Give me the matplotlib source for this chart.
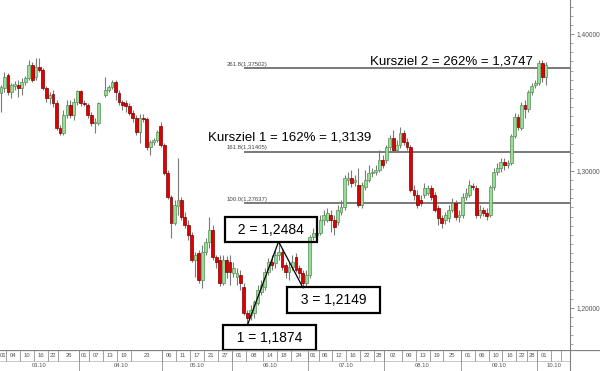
import numpy as np
import matplotlib
matplotlib.use('Agg')
import matplotlib.pyplot as plt
from matplotlib.ticker import MultipleLocator, AutoMinorLocator, FuncFormatter

plt.rcParams['font.family'] = ['Liberation Sans', 'DejaVu Sans']

nan = np.nan
# EUR/USD daily candles, Mar - Oct 2010 (nan = missing day)
opens = [1.3569, 1.3606, 1.3701, 1.3576, 1.3620, 1.3628, 1.3606, 1.3649, 1.3679, 1.3774,
         1.3686, 1.3759, 1.3737, 1.3606, 1.3533, 1.3562, 1.3496, 1.3314, 1.3277, 1.3409,
         1.3482, 1.3409, 1.3503, 1.3584, 1.3496, 1.3482, 1.3409, 1.3350, 1.3350, nan,
         1.3555, 1.3591, 1.3613, 1.3649, 1.3569, 1.3503, 1.3496, 1.3474, 1.3423, 1.3387,
         1.3284, 1.3387, 1.3379, 1.3175, 1.3211, 1.3226, 1.3328, 1.3190, 1.2985, 1.2810,
         1.2620, 1.2744, 1.2788, 1.2664, 1.2606, 1.2533, 1.2350, 1.2401, 1.2204, 1.2408,
         1.2481, 1.2569, 1.2372, 1.2350, 1.2182, 1.2350, 1.2335, 1.2255, 1.2226, 1.2241,
         1.2153, 1.1963, 1.1949, 1.1963, 1.2036, 1.2116, 1.2153, 1.2262, 1.2335, 1.2328,
         1.2387, 1.2408, 1.2314, 1.2262, 1.2299, 1.2372, 1.2292, 1.2255, 1.2182, 1.2241,
         1.2518, 1.2533, 1.2547, 1.2642, 1.2642, 1.2679, 1.2642, 1.2627, 1.2700, 1.2737,
         1.2934, 1.2949, 1.2919, 1.2898, 1.2752, 1.2883, 1.2934, 1.2985, 1.2992, 1.3007,
         1.3080, 1.3080, 1.3175, 1.3241, 1.3153, 1.3190, 1.3277, 1.3211, 1.3175, 1.2861,
         1.2825, 1.2788, 1.2825, 1.2839, 1.2876, 1.2825, 1.2730, 1.2657, 1.2642, 1.2657,
         1.2715, 1.2766, 1.2664, 1.2679, 1.2810, 1.2825, 1.2890, 1.2876, 1.2679, 1.2715,
         1.2693, 1.2679, 1.2883, 1.2992, 1.3022, 1.3065, 1.3044, 1.3058, 1.3255, 1.3394,
         1.3314, 1.3482, 1.3452, 1.3576, 1.3628, 1.3642, 1.3788, 1.3686]
closes = [1.3613, 1.3686, 1.3576, 1.3628, 1.3635, 1.3606, 1.3649, 1.3679, 1.3774, 1.3664,
          1.3759, 1.3737, 1.3606, 1.3533, 1.3555, 1.3496, 1.3314, 1.3277, 1.3409, 1.3482,
          1.3409, 1.3503, 1.3584, 1.3496, 1.3489, 1.3409, 1.3350, 1.3357, 1.3496, nan,
          1.3591, 1.3613, 1.3649, 1.3576, 1.3503, 1.3482, 1.3474, 1.3423, 1.3387, 1.3284,
          1.3387, 1.3379, 1.3175, 1.3211, 1.3226, 1.3284, 1.3190, 1.2985, 1.2810, 1.2620,
          1.2752, 1.2788, 1.2664, 1.2606, 1.2533, 1.2350, 1.2387, 1.2204, 1.2408, 1.2481,
          1.2569, 1.2372, 1.2335, 1.2182, 1.2350, 1.2262, 1.2262, 1.2292, 1.2255, 1.2182,
          1.1963, 1.1927, 1.1985, 1.2043, 1.2131, 1.2168, 1.2262, 1.2335, 1.2314, 1.2387,
          1.2408, 1.2299, 1.2262, 1.2299, 1.2335, 1.2277, 1.2255, 1.2182, 1.2241, 1.2518,
          1.2547, 1.2547, 1.2642, 1.2679, 1.2693, 1.2642, 1.2591, 1.2715, 1.2737, 1.2949,
          1.2949, 1.2912, 1.2934, 1.2752, 1.2898, 1.2934, 1.2985, 1.2992, 1.3007, 1.3080,
          1.3044, 1.3175, 1.3241, 1.3153, 1.3190, 1.3277, 1.3211, 1.3175, 1.2861, 1.2825,
          1.2752, 1.2766, 1.2876, 1.2876, 1.2810, 1.2715, 1.2657, 1.2620, 1.2679, 1.2715,
          1.2766, 1.2664, 1.2679, 1.2810, 1.2839, 1.2898, 1.2883, 1.2679, 1.2715, 1.2693,
          1.2671, 1.2883, 1.2992, 1.3022, 1.3065, 1.3044, 1.3058, 1.3255, 1.3394, 1.3321,
          1.3482, 1.3452, 1.3576, 1.3620, 1.3642, 1.3788, 1.3686, 1.3774]
highs = [1.3628, 1.3722, 1.3715, 1.3642, 1.3657, 1.3664, 1.3679, 1.3693, 1.3810, 1.3795,
         1.3825, 1.3825, 1.3752, 1.3620, 1.3576, 1.3591, 1.3518, 1.3336, 1.3445, 1.3518,
         1.3518, 1.3533, 1.3591, 1.3591, 1.3518, 1.3496, 1.3430, 1.3387, 1.3503, nan,
         1.3686, 1.3628, 1.3664, 1.3664, 1.3591, 1.3518, 1.3518, 1.3496, 1.3445, 1.3409,
         1.3416, 1.3416, 1.3394, 1.3226, 1.3241, 1.3299, 1.3357, 1.3204, 1.3007, 1.2825,
         1.2788, 1.3095, 1.2810, 1.2700, 1.2642, 1.2554, 1.2408, 1.2423, 1.2460, 1.2511,
         1.2664, 1.2606, 1.2387, 1.2387, 1.2387, 1.2379, 1.2387, 1.2335, 1.2292, 1.2277,
         1.2182, 1.1985, 1.2022, 1.2058, 1.2168, 1.2204, 1.2292, 1.2365, 1.2387, 1.2423,
         1.2484, 1.2438, 1.2335, 1.2335, 1.2387, 1.2401, 1.2314, 1.2277, 1.2277, 1.2533,
         1.2584, 1.2606, 1.2679, 1.2715, 1.2730, 1.2715, 1.2679, 1.2752, 1.2788, 1.2971,
         1.2992, 1.3007, 1.2971, 1.3022, 1.2919, 1.3007, 1.3044, 1.3022, 1.3044, 1.3153,
         1.3117, 1.3190, 1.3263, 1.3299, 1.3226, 1.3321, 1.3299, 1.3241, 1.3190, 1.2898,
         1.2861, 1.2825, 1.2912, 1.2898, 1.2898, 1.2846, 1.2752, 1.2679, 1.2700, 1.2752,
         1.2803, 1.2788, 1.2715, 1.2839, 1.2876, 1.2934, 1.2912, 1.2898, 1.2752, 1.2737,
         1.2730, 1.2898, 1.3022, 1.3058, 1.3095, 1.3095, 1.3080, 1.3270, 1.3423, 1.3416,
         1.3503, 1.3518, 1.3591, 1.3642, 1.3664, 1.3810, 1.3810, 1.3795]
lows = [1.3430, 1.3576, 1.3555, 1.3533, 1.3591, 1.3540, 1.3555, 1.3628, 1.3664, 1.3649,
        1.3664, 1.3722, 1.3591, 1.3503, 1.3489, 1.3467, 1.3299, 1.3263, 1.3263, 1.3387,
        1.3387, 1.3372, 1.3482, 1.3474, 1.3474, 1.3387, 1.3328, 1.3277, 1.3336, nan,
        1.3540, 1.3576, 1.3598, 1.3518, 1.3482, 1.3445, 1.3430, 1.3409, 1.3357, 1.3263,
        1.3204, 1.3357, 1.3153, 1.3117, 1.3190, 1.3211, 1.3175, 1.2971, 1.2795, 1.2511,
        1.2606, 1.2679, 1.2642, 1.2584, 1.2496, 1.2335, 1.2226, 1.2182, 1.2146, 1.2387,
        1.2438, 1.2350, 1.2292, 1.2160, 1.2168, 1.2219, 1.2168, 1.2226, 1.2168, 1.2131,
        1.1949, 1.1874, 1.1912, 1.1927, 1.2022, 1.2095, 1.2131, 1.2241, 1.2277, 1.2292,
        1.2350, 1.2277, 1.2219, 1.2204, 1.2277, 1.2262, 1.2219, 1.2149, 1.2160, 1.2219,
        1.2496, 1.2511, 1.2533, 1.2606, 1.2627, 1.2554, 1.2533, 1.2606, 1.2679, 1.2715,
        1.2898, 1.2883, 1.2890, 1.2737, 1.2730, 1.2861, 1.2919, 1.2956, 1.2971, 1.2992,
        1.3022, 1.3058, 1.3153, 1.3138, 1.3138, 1.3168, 1.3190, 1.3153, 1.2846, 1.2788,
        1.2730, 1.2744, 1.2803, 1.2825, 1.2788, 1.2700, 1.2606, 1.2584, 1.2613, 1.2627,
        1.2700, 1.2642, 1.2627, 1.2657, 1.2788, 1.2810, 1.2861, 1.2657, 1.2657, 1.2671,
        1.2642, 1.2664, 1.2861, 1.2971, 1.2992, 1.3007, 1.3022, 1.3044, 1.3241, 1.3299,
        1.3299, 1.3387, 1.3430, 1.3555, 1.3606, 1.3628, 1.3649, 1.3628]

fib_pct = [100.0, 161.8, 261.8]
fib_levels = [1.27637, 1.31405, 1.37502]
targets = ['Kursziel 1 = 162% = 1,3139', 'Kursziel 2 = 262% = 1,3747']

day_labels = ['01', '04', '10', '16', '22', '26', '01', '07', '13', '19', '23',
              '06', '11', '17', '21', '27', '01', '08', '14', '18', '24',
              '01', '06', '12', '16', '22', '28', '02', '09', '13', '19', '25',
              '01', '06', '10', '16', '22', '28', '01', '', '']
day_start = [-3, 2, 6, 10, 14, 17, 23, 26, 30, 34, 38, 47, 51, 55, 59, 63, 67, 71, 76, 80, 84,
             89, 92, 96, 100, 104, 108, 111, 116, 120, 124, 128, 133, 137, 141, 145, 149, 152,
             155, 159, 162]
months = ['03.10', '04.10', '05.10', '06.10', '07.10', '08.10', '09.10', '10.10']
month_start = [-3, 23, 47, 67, 89, 111, 133, 155]

o = np.array(opens); c = np.array(closes); h = np.array(highs); l = np.array(lows)
x = np.arange(len(o))
ok = ~np.isnan(o)
up = ok & (c >= o)
dn = ok & (c < o)

def comma(v, n):
    return f"{v:.{n}f}".replace('.', ',')

fig = plt.figure(figsize=(6, 3.71), dpi=100)
ax = fig.add_axes([0, 21 / 371, 570 / 600, 350 / 371])
xmax = 163.98
ax.set_xlim(-0.29, xmax)
ax.set_ylim(1.1693, 1.4248)

# fibonacci extension lines
fib_x0 = 70
ax.hlines(fib_levels, fib_x0, xmax, color='#555555', lw=1.1, zorder=1)
for p, lv in zip(fib_pct, fib_levels):
    ax.annotate(f"{p:.1f}({comma(lv, 5)})", xy=(fib_x0 - 5, lv), xytext=(0, 1.2),
                textcoords='offset points', fontsize=4.3, color='#444444', va='bottom')

# candles
ax.vlines(x[ok], l[ok], h[ok], color='#7a7a7a', lw=0.8, zorder=2)
ax.bar(x[up], c[up] - o[up], bottom=o[up], width=0.82, color='#97dc97',
       edgecolor='#558f55', lw=0.5, zorder=3)
ax.bar(x[dn], c[dn] - o[dn], bottom=o[dn], width=0.82, color='#e00000',
       edgecolor='#7a0000', lw=0.5, zorder=3)

# 1-2-3 wave
i1 = int(np.nanargmin(l))
i2 = i1 + int(np.nanargmax(h[i1:i1 + 15]))
i3 = i2 + int(np.nanargmin(l[i2:i2 + 10]))
ax.plot([i1, i2, i3], [l[i1], h[i2], l[i3]], color='black', lw=0.9, zorder=4)
box = dict(boxstyle='square,pad=0.4', fc='none', ec='black', lw=1.6)
ax.annotate(f"  1 = {comma(l[i1], 4)}  ", xy=(i1, l[i1]), xytext=(16, -9),
            textcoords='offset points', ha='center', va='center', fontsize=10,
            bbox=box, zorder=5, annotation_clip=False)
ax.annotate(f"  2 = {comma(h[i2], 4)}  ", xy=(i2, h[i2]), xytext=(-5.5, 8.5),
            textcoords='offset points', ha='center', va='center', fontsize=10,
            bbox=box, zorder=5)
ax.annotate(f"  3 = {comma(l[i3], 4)}  ", xy=(i3, l[i3]), xytext=(22, -9),
            textcoords='offset points', ha='center', va='center', fontsize=10,
            bbox=box, zorder=5)

# targets
ax.annotate(targets[0], xy=(59.7, fib_levels[1]), xytext=(0, 8),
            textcoords='offset points', fontsize=9.5, va='baseline')
ax.annotate(targets[1], xy=(106.3, fib_levels[2]), xytext=(0, 3),
            textcoords='offset points', fontsize=9.5, va='baseline')

# price axis on the right
for s in ['left', 'top', 'bottom']:
    ax.spines[s].set_visible(False)
ax.spines['right'].set_color('#808080')
ax.spines['right'].set_linewidth(0.8)
ax.set_xticks([])
ax.yaxis.tick_right()
ax.yaxis.set_major_locator(MultipleLocator(0.1))
ax.yaxis.set_minor_locator(AutoMinorLocator(15))
ax.yaxis.set_major_formatter(FuncFormatter(lambda v, pos: comma(v, 5)))
ax.tick_params(axis='y', which='major', length=3, width=0.6, color='#808080',
               labelsize=4.8, labelcolor='#555555', pad=1.5)
ax.tick_params(axis='y', which='minor', length=2, width=0.5, color='#808080')

# date axis
dax = fig.add_axes([0, 0, 1, 21 / 371])
dax.set_xlim(-0.29, -0.29 + (xmax + 0.29) * 600 / 570)
dax.set_ylim(0, 1)
dax.axis('off')
dax.axhline(1, color='#808080', lw=0.9)
dax.hlines(0.5, -0.29, xmax, color='#b0b0b0', lw=0.5)
bounds = day_start + [xmax + 0.5]
for i, lab in enumerate(day_labels):
    dax.vlines(bounds[i] - 0.5, 0.5, 1, color='#909090', lw=0.6)
    xc = (max(bounds[i] - 0.5, -0.29) + bounds[i + 1] - 0.5) / 2
    dax.text(xc, 0.74, lab, ha='center', va='center', fontsize=4.2, color='#555555')
mb = month_start + [xmax + 0.5]
for i, lab in enumerate(months):
    dax.vlines(mb[i] - 0.5, 0, 1, color='#909090', lw=0.6)
    xc = (max(mb[i] - 0.5, -0.29) + mb[i + 1] - 0.5) / 2
    dax.text(xc, 0.24, lab, ha='center', va='center', fontsize=4.2, color='#555555')
dax.vlines(xmax, 0, 1, color='#808080', lw=0.8)

fig.savefig('out.png', dpi=100)
